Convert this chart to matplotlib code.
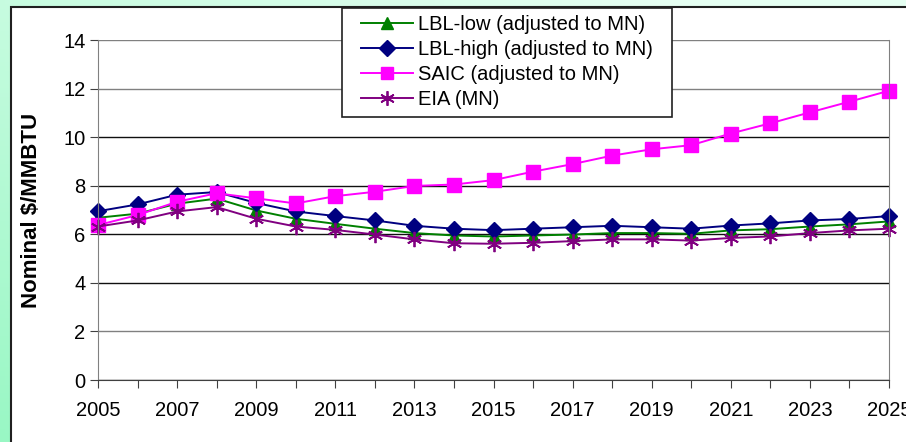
import numpy as np
import matplotlib
matplotlib.use("Agg")
import matplotlib.pyplot as plt
from matplotlib.patches import Rectangle

plt.rcParams['font.family'] = ['Liberation Sans', 'DejaVu Sans']

years = list(range(2005, 2026))
lbl_low = [6.68, 6.85, 7.26, 7.47, 6.98, 6.64, 6.43, 6.23, 6.05, 5.95, 5.91,
           5.95, 5.99, 6.05, 6.05, 6.02, 6.16, 6.21, 6.32, 6.41, 6.53]
lbl_high = [6.95, 7.23, 7.63, 7.74, 7.29, 6.94, 6.75, 6.57, 6.35, 6.23, 6.17,
            6.23, 6.29, 6.35, 6.29, 6.23, 6.36, 6.45, 6.57, 6.63, 6.75]
saic = [6.38, 6.79, 7.34, 7.69, 7.48, 7.27, 7.57, 7.75, 7.99, 8.05, 8.23,
        8.58, 8.89, 9.24, 9.50, 9.67, 10.15, 10.57, 11.02, 11.46, 11.91]
eia = [6.32, 6.57, 6.94, 7.12, 6.64, 6.32, 6.18, 5.99, 5.79, 5.63, 5.61,
       5.65, 5.72, 5.79, 5.79, 5.74, 5.85, 5.91, 6.05, 6.16, 6.23]

W, H = 906, 442
fig = plt.figure(figsize=(W / 100, H / 100), dpi=100)

# mint gradient background
bg = fig.add_axes([0, 0, 1, 1], zorder=-3)
gx, gy = np.meshgrid(np.linspace(0, 1, 200), np.linspace(0, 1, 100))
t = np.clip(0.55 * gx + 0.6 * gy, 0, 1)
c0 = np.array([0.60, 0.97, 0.77])
c1 = np.array([0.90, 1.00, 0.95])
img = c0 + (c1 - c0) * t[..., None]
bg.imshow(img, origin='lower', aspect='auto', extent=[0, 1, 0, 1])
bg.axis('off')

# white panel
fig.patches.append(Rectangle((11 / W, -0.02), 1.0, 1 - 7 / H + 0.02, transform=fig.transFigure,
                             facecolor='white', edgecolor='#202020', linewidth=1.5, zorder=-2))

ax = fig.add_axes([98 / W, 1 - 380 / H, (889 - 98) / W, (380 - 40) / H])
ax.set_facecolor('none')

ax.plot(years, lbl_low, color='#008000', lw=1.4, marker='^', ms=9, label='LBL-low (adjusted to MN)', clip_on=False)
ax.plot(years, lbl_high, color='#000080', lw=1.4, marker='D', ms=8.5, label='LBL-high (adjusted to MN)', clip_on=False)
ax.plot(years, saic, color='#FF00FF', lw=1.4, marker='s', ms=9.5, label='SAIC (adjusted to MN)', clip_on=False)
ax.plot(years, eia, color='#800080', lw=1.4, marker=(6, 2, 0), ms=11, mew=1.3, label='EIA (MN)', clip_on=False)

ax.set_xlim(2005, 2025)
ax.set_ylim(0, 14)
ax.set_yticks(range(0, 15, 2))
ax.set_xticks(years)
ax.set_xticklabels([str(y) if (y - 2005) % 2 == 0 else '' for y in years])
ax.tick_params(axis='both', labelsize=14.5, direction='out', colors='#404040', labelcolor='black')
ax.tick_params(axis='x', length=6, pad=9)
ax.tick_params(axis='y', length=6, pad=3)

ax.set_axisbelow(True)
ax.yaxis.grid(True, linewidth=1.0)
for val, gl in zip(range(0, 15, 2), ax.get_ygridlines()):
    gl.set_color('#808080' if val in (2, 12, 14) else '#101010')

for side in ['left', 'right', 'top']:
    ax.spines[side].set_color('#808080')
ax.spines['bottom'].set_color('#404040')
ax.spines['top'].set_visible(False)

ax.set_ylabel('Nominal $/MMBTU', fontsize=16, fontweight='bold')
ax.yaxis.set_label_coords((42 - 98) / (889 - 98), 0.5)

# legend box
fig.patches.append(Rectangle((342 / W, 1 - 117 / H), (672 - 342) / W, (117 - 8) / H,
                             transform=fig.transFigure, facecolor='white',
                             edgecolor='#202020', linewidth=1.2, zorder=4))
handles, labels = ax.get_legend_handles_labels()
leg = fig.legend(handles, labels, loc='upper left', bbox_to_anchor=(361 / W, 1 - 15 / H),
                 frameon=False, fontsize=14.5, borderpad=0, borderaxespad=0,
                 handlelength=2.6, handletextpad=0.25, labelspacing=0.3, markerscale=0.95)
leg.set_zorder(5)

fig.savefig('out.png', dpi=100)
